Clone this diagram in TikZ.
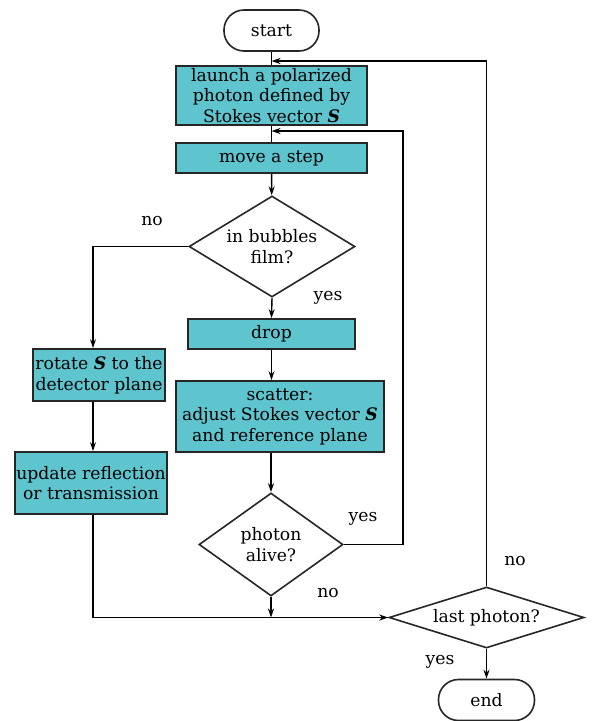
\documentclass[tikz,border=0pt]{standalone}
\usepackage{fontspec}
\setmainfont{DejaVu Serif}
\usetikzlibrary{shapes.geometric,arrows.meta}
\definecolor{boxfill}{RGB}{94,196,206}
\newcommand{\bS}{\textbf{\textit{S}}}
\begin{document}
\begin{tikzpicture}[x=1pt,y=-1pt,
  every node/.style={font=\fontsize{17.2}{20.5}\selectfont, align=center, inner sep=0pt},
  procbox/.style={draw=black!85, line width=1.8pt, fill=boxfill},
  termbox/.style={draw=black!85, line width=1.6pt, rounded corners=20pt, minimum width=95pt, minimum height=41pt},
  decbox/.style={draw=black!85, line width=1.6pt, diamond},
  lbl/.style={font=\fontsize{17.2}{20.5}\selectfont},
  arr/.style={line width=1.4pt, -{Stealth[length=9pt,width=6pt,inset=3pt]}},
  ln/.style={line width=1.4pt}]
\useasboundingbox (0,0) rectangle (595,721);
\fill[white] (0,0) rectangle (595,721);

\node[termbox] (start) at (271.5,30.5) {start};
\node[procbox, minimum width=191pt, minimum height=59pt] (launch) at (271.5,95.5) {launch a polarized\\photon defined by\\Stokes vector \bS};
\node[procbox, minimum width=191pt, minimum height=30pt] (move) at (271.5,158) {move a step};
\node[decbox, minimum width=166pt, minimum height=101pt, shape aspect=1.64] (bub) at (272,246.5) {in bubbles\\film?};
\node[procbox, minimum width=167pt, minimum height=30pt] (drop) at (271.5,334) {drop};
\node[procbox, minimum width=208pt, minimum height=71pt] (scat) at (280,416.5) {scatter:\\adjust Stokes vector \bS\\and reference plane};
\node[procbox, minimum width=132pt, minimum height=52pt] (rot) at (99,375) {rotate \bS{} to the\\detector plane};
\node[procbox, minimum width=152pt, minimum height=62pt] (upd) at (91,483) {update reflection\\or transmission};
\node[decbox, minimum width=144pt, minimum height=103pt, shape aspect=1.4] (alive) at (271,544.5) {photon\\alive?};
\node[decbox, minimum width=195pt, minimum height=61pt, shape aspect=3.2] (last) at (486.5,617.5) {last photon?};
\node[termbox, minimum width=96pt] (end) at (486.5,700) {end};

\coordinate (j1) at (271.5,61);
\coordinate (j2) at (271.5,131);
\coordinate (r1) at (403,131);

\draw[ln] (start) -- (launch);
\draw[arr] (last.north) |- (j1);
\draw[ln] (launch) -- (move);
\draw[arr] (alive.east) -| (r1) -- (j2);
\draw[arr] (move) -- (bub);
\draw[arr] (bub.west) -| ([xshift=-6pt]rot.north);
\draw[arr] ([xshift=-6pt]rot.south) -- ([xshift=-6pt]rot.south |- upd.north);
\draw[arr] ([xshift=2pt]upd.south) |- (last.west);
\draw[arr] (bub.south) -- (drop.north);
\draw[arr] (drop.south) -- (drop.south |- scat.north);
\draw[arr] (scat.south -| alive.north) -- (alive.north);
\draw[arr] (alive.south) -- (alive.south |- last.west);
\draw[arr] (last.south) -- (end.north);

\node[lbl] (l1) at (152,221) {no};
\node[lbl] (l2) at (328,298) {yes};
\node[lbl] (l3) at (363,519) {yes};
\node[lbl] (l4) at (328,593) {no};
\node[lbl] (l5) at (515,561) {no};
\node[lbl] (l6) at (440,662) {yes};
\end{tikzpicture}
\end{document}
